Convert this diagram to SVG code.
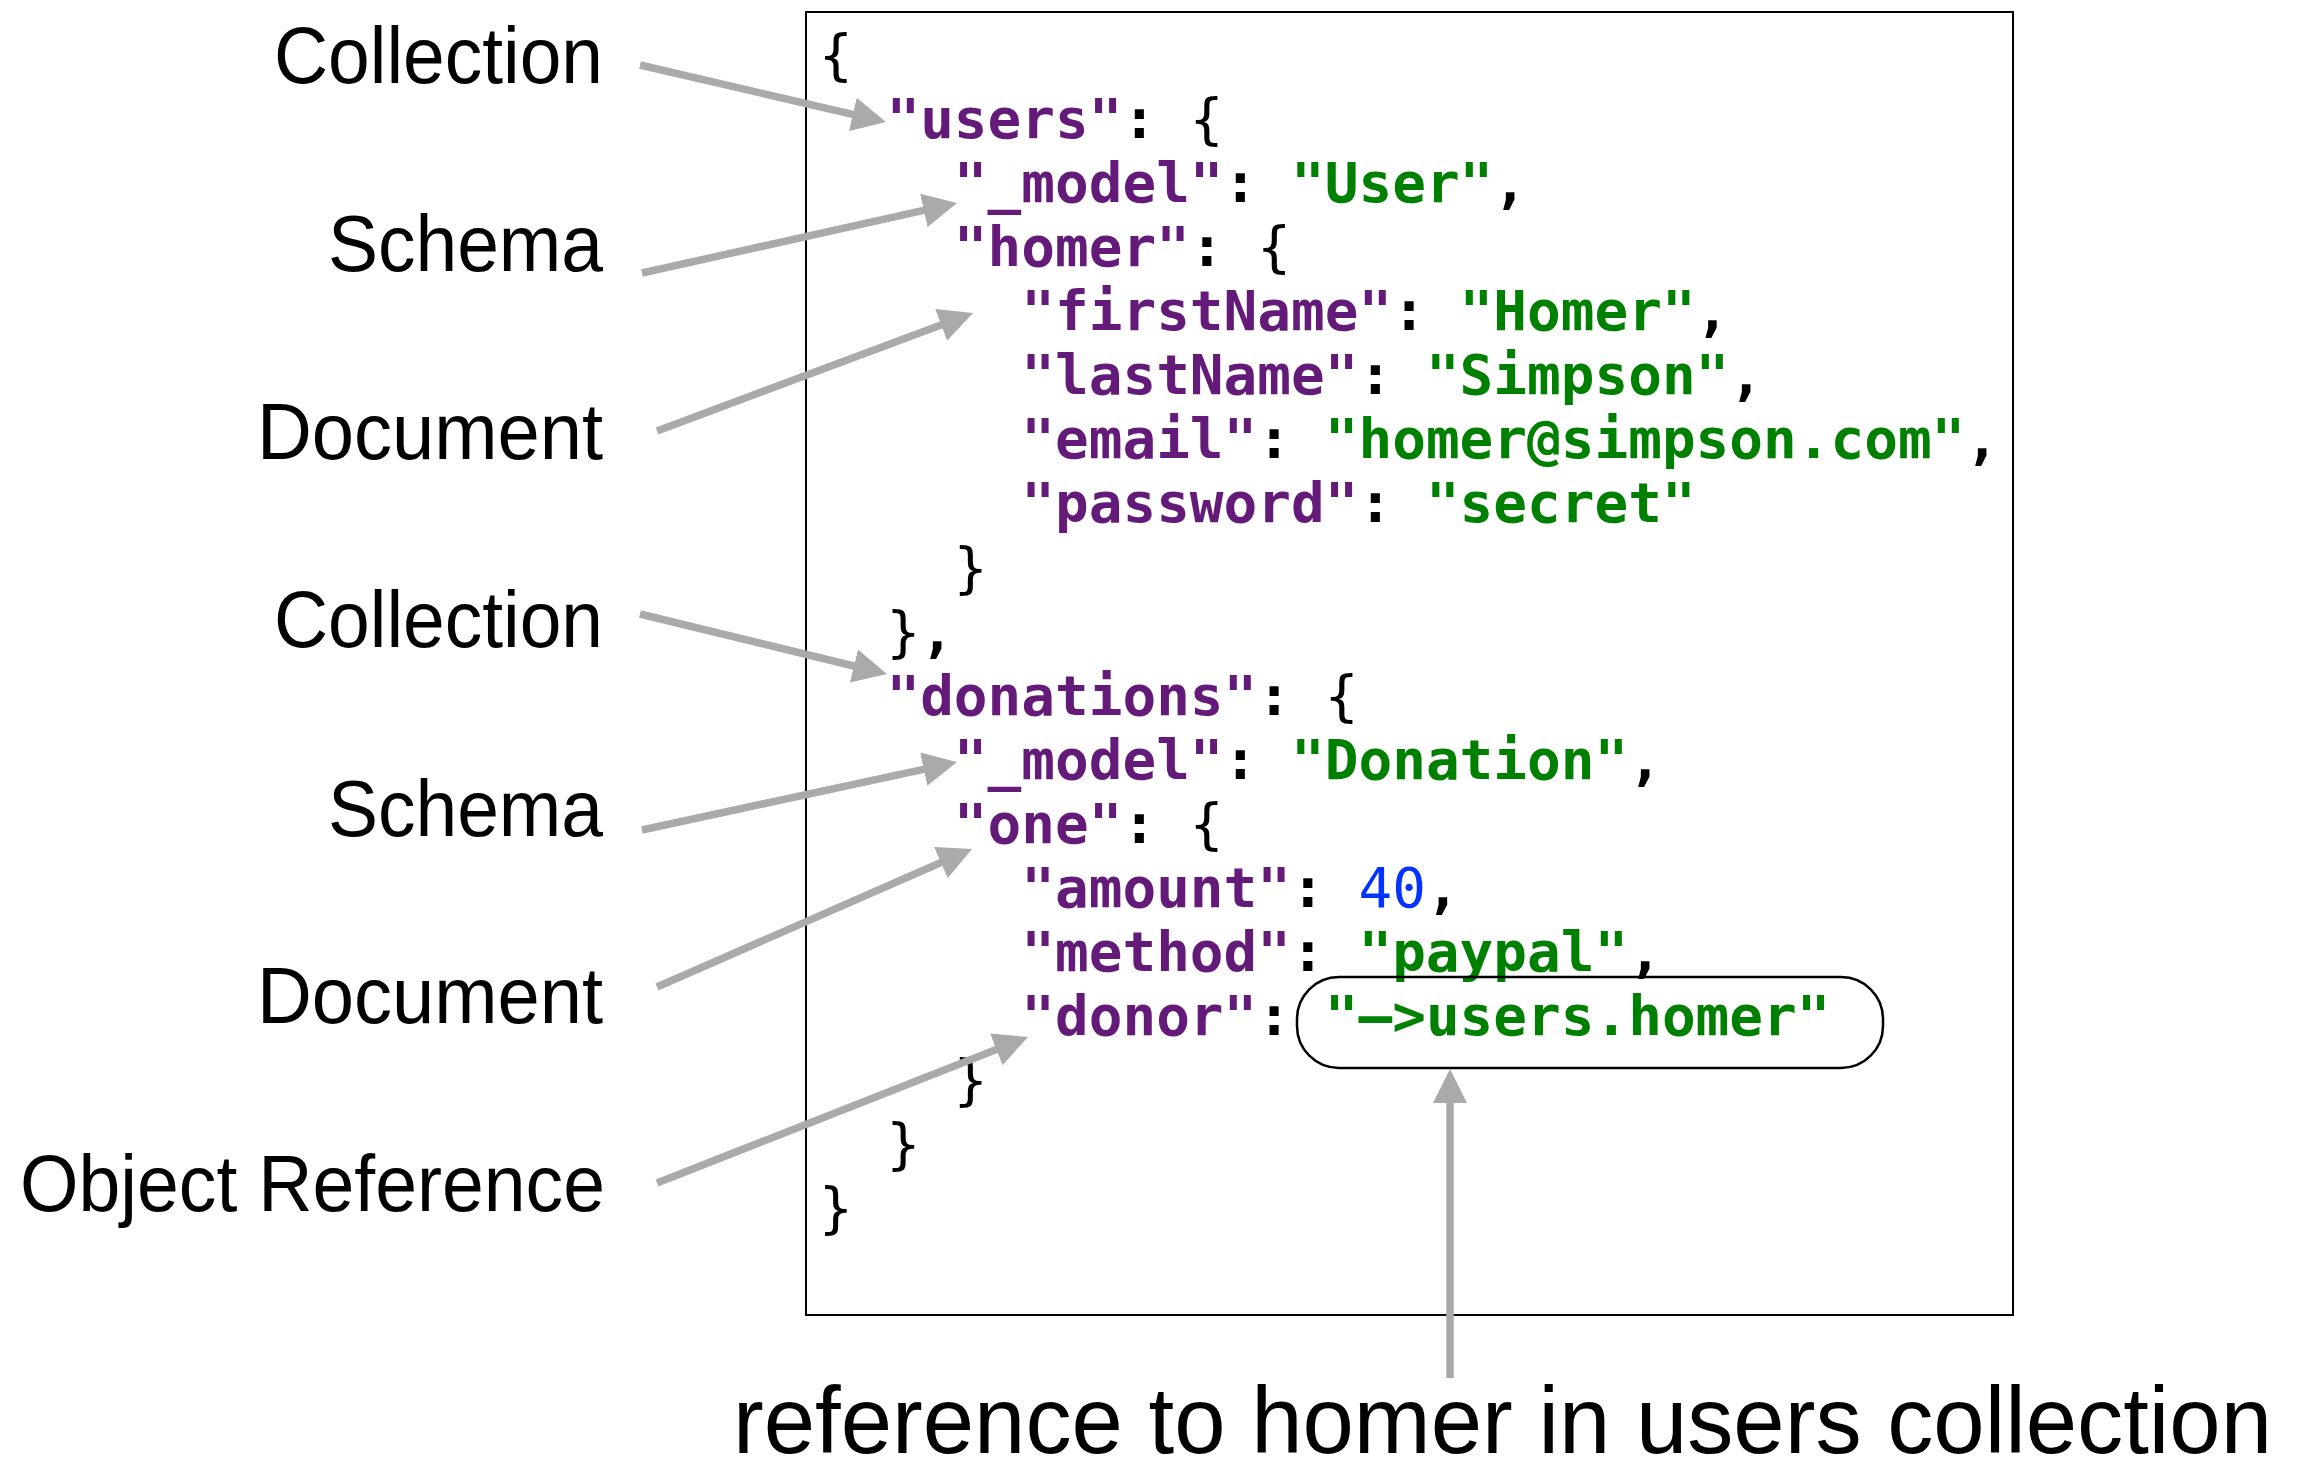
<svg xmlns="http://www.w3.org/2000/svg" width="2302" height="1462" viewBox="0 0 2302 1462">
  <style>
    .lbl { font-family: "Liberation Sans", Arial, sans-serif; font-size: 80px; fill: #000; }
    .code { font-family: "DejaVu Sans Mono", monospace; font-size: 56px; fill: #000; }
    .k { fill: #641a78; font-weight: bold; }
    .s { fill: #008000; font-weight: bold; }
    .n { fill: #0433ff; }
    .p { font-weight: bold; }
    .conn { stroke: #aaaaaa; stroke-width: 7.5; fill: none; }
  </style>
  <defs>
    <marker id="ah" markerUnits="userSpaceOnUse" markerWidth="34" markerHeight="34" refX="2" refY="17" orient="auto" viewBox="0 0 34 34">
      <path d="M0,0 L34,17 L0,34 z" fill="#aaaaaa"/>
    </marker>
  </defs>
  <rect width="2302" height="1462" fill="#ffffff"/>

  <g id="label-collection-1"><text class="lbl" x="274" y="83" textLength="329" lengthAdjust="spacingAndGlyphs">Collection</text></g>
  <g id="label-schema-1"><text class="lbl" x="328" y="271" textLength="275" lengthAdjust="spacingAndGlyphs">Schema</text></g>
  <g id="label-document-1"><text class="lbl" x="257" y="459" textLength="346" lengthAdjust="spacingAndGlyphs">Document</text></g>
  <g id="label-collection-2"><text class="lbl" x="274" y="647" textLength="329" lengthAdjust="spacingAndGlyphs">Collection</text></g>
  <g id="label-schema-2"><text class="lbl" x="328" y="835.5" textLength="275" lengthAdjust="spacingAndGlyphs">Schema</text></g>
  <g id="label-document-2"><text class="lbl" x="257" y="1023" textLength="346" lengthAdjust="spacingAndGlyphs">Document</text></g>
  <g id="label-object-reference"><text class="lbl" x="20" y="1211" textLength="585" lengthAdjust="spacingAndGlyphs">Object Reference</text></g>
  <g id="label-bottom"><text class="lbl" x="733" y="1453" style="font-size:94px" textLength="1539" lengthAdjust="spacingAndGlyphs">reference to homer in users collection</text></g>

  <g id="code-box">
    <rect x="806" y="12" width="1207" height="1303" fill="none" stroke="#000" stroke-width="2"/>
    <g class="code">
      <text x="819" y="74">{</text>
      <text x="886.43" y="138.07"><tspan class="k">"users"</tspan><tspan class="p">:</tspan> {</text>
      <text x="953.86" y="202.14"><tspan class="k">"_model"</tspan><tspan class="p">:</tspan> <tspan class="s">"User"</tspan><tspan class="p">,</tspan></text>
      <text x="953.86" y="266.21"><tspan class="k">"homer"</tspan><tspan class="p">:</tspan> {</text>
      <text x="1021.29" y="330.28"><tspan class="k">"firstName"</tspan><tspan class="p">:</tspan> <tspan class="s">"Homer"</tspan><tspan class="p">,</tspan></text>
      <text x="1021.29" y="394.35"><tspan class="k">"lastName"</tspan><tspan class="p">:</tspan> <tspan class="s">"Simpson"</tspan><tspan class="p">,</tspan></text>
      <text x="1021.29" y="458.42"><tspan class="k">"email"</tspan><tspan class="p">:</tspan> <tspan class="s">"homer@simpson.com"</tspan><tspan class="p">,</tspan></text>
      <text x="1021.29" y="522.49"><tspan class="k">"password"</tspan><tspan class="p">:</tspan> <tspan class="s">"secret"</tspan></text>
      <text x="953.86" y="586.56">}</text>
      <text x="886.43" y="650.63">}<tspan class="p">,</tspan></text>
      <text x="886.43" y="714.7"><tspan class="k">"donations"</tspan><tspan class="p">:</tspan> {</text>
      <text x="953.86" y="778.77"><tspan class="k">"_model"</tspan><tspan class="p">:</tspan> <tspan class="s">"Donation"</tspan><tspan class="p">,</tspan></text>
      <text x="953.86" y="842.84"><tspan class="k">"one"</tspan><tspan class="p">:</tspan> {</text>
      <text x="1021.29" y="906.91"><tspan class="k">"amount"</tspan><tspan class="p">:</tspan> <tspan class="n">40</tspan><tspan class="p">,</tspan></text>
      <text x="1021.29" y="970.98"><tspan class="k">"method"</tspan><tspan class="p">:</tspan> <tspan class="s">"paypal"</tspan><tspan class="p">,</tspan></text>
      <text x="1021.29" y="1035.05"><tspan class="k">"donor"</tspan><tspan class="p">:</tspan> <tspan class="s">"–&gt;users.homer"</tspan></text>
      <text x="953.86" y="1099.12">}</text>
      <text x="886.43" y="1163.19">}</text>
      <text x="819" y="1227.26">}</text>
    </g>
  </g>

  <g id="reference-highlight">
    <rect x="1297" y="977" width="586" height="91" rx="42" ry="42" fill="none" stroke="#000" stroke-width="2.5"/>
  </g>

  <g id="connectors">
    <line class="conn" x1="640" y1="65" x2="854.8" y2="114.8" marker-end="url(#ah)"/>
    <line class="conn" x1="642" y1="273" x2="925.8" y2="209.9" marker-end="url(#ah)"/>
    <line class="conn" x1="657" y1="431" x2="943" y2="324.2" marker-end="url(#ah)"/>
    <line class="conn" x1="640" y1="614" x2="855.9" y2="666.5" marker-end="url(#ah)"/>
    <line class="conn" x1="642" y1="830" x2="925.7" y2="768.8" marker-end="url(#ah)"/>
    <line class="conn" x1="657" y1="987" x2="942.7" y2="861.8" marker-end="url(#ah)"/>
    <line class="conn" x1="657" y1="1183" x2="998.2" y2="1048.7" marker-end="url(#ah)"/>
    <line class="conn" x1="1450" y1="1378" x2="1450" y2="1101" marker-end="url(#ah)"/>
  </g>
</svg>
